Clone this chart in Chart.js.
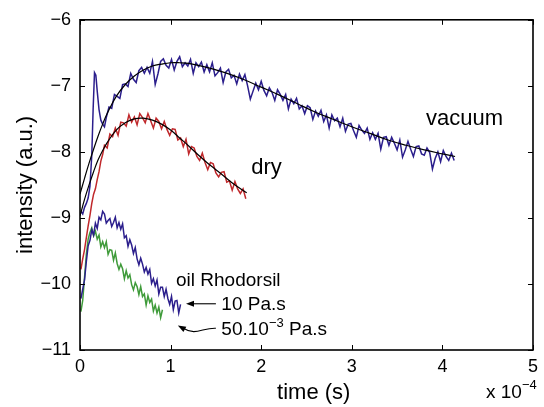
<!DOCTYPE html>
<html>
<head>
<meta charset="utf-8">
<script src="https://cdn.jsdelivr.net/npm/chart.js@4"></script>
<style>
  html, body { margin: 0; padding: 0; background: #fff; }
  canvas { display: block; }
</style>
</head>
<body>
<canvas id="chart" width="544" height="407"></canvas>
<script>
'use strict'

const FONT = 'Liberation Sans, Arial, Helvetica, sans-serif'

// time axis is in units of 1e-4 s
const xTicks = [0, 1, 2, 3, 4, 5]
const yTicks = [-11, -10, -9, -8, -7, -6]

const vacuumT = [0.01, 0.03, 0.05, 0.07, 0.09, 0.11, 0.13, 0.145, 0.16, 0.175, 0.19, 0.21, 0.23, 0.25, 0.27, 0.29,
  0.32, 0.35, 0.38, 0.41, 0.44, 0.47, 0.50, 0.53, 0.56, 0.59, 0.62, 0.65, 0.68, 0.71, 0.74, 0.77, 0.80, 0.83,
  0.86, 0.89, 0.92, 0.95, 0.98, 1.01, 1.04, 1.07, 1.10, 1.13, 1.16, 1.19, 1.22, 1.25, 1.28, 1.31, 1.34, 1.37,
  1.40, 1.43, 1.46, 1.49, 1.52, 1.55, 1.58, 1.61, 1.64, 1.67, 1.70, 1.73, 1.76, 1.79, 1.82, 1.85, 1.88, 1.91,
  1.94, 1.97, 2.00, 2.03, 2.06, 2.09, 2.12, 2.15, 2.18, 2.21, 2.24, 2.27, 2.30, 2.33, 2.36, 2.39, 2.42, 2.45,
  2.48, 2.51, 2.54, 2.57, 2.60, 2.63, 2.66, 2.69, 2.72, 2.75, 2.78, 2.81, 2.84, 2.87, 2.90, 2.93, 2.96, 2.99,
  3.02, 3.05, 3.08, 3.11, 3.14, 3.17, 3.20, 3.23, 3.26, 3.29, 3.32, 3.35, 3.38, 3.41, 3.44, 3.47, 3.50, 3.53,
  3.56, 3.59, 3.62, 3.65, 3.68, 3.71, 3.74, 3.77, 3.80, 3.83, 3.86, 3.89, 3.92, 3.95, 3.98, 4.01, 4.04, 4.07,
  4.10, 4.13]
const vacuumI = [-8.90, -8.94, -8.84, -8.78, -8.70, -8.52, -8.05, -7.35, -6.80, -6.84, -7.08, -7.36, -7.52, -7.58, -7.62, -7.48,
  -7.32, -7.34, -7.13, -7.16, -7.19, -6.98, -6.97, -7.01, -6.81, -6.90, -6.95, -6.77, -6.72, -6.81, -6.72, -6.81, -6.63, -6.98,
  -6.82, -6.63, -6.59, -6.69, -6.73, -6.60, -6.76, -6.63, -6.56, -6.71, -6.65, -6.70, -6.60, -6.81, -6.65, -6.71, -6.64, -6.79,
  -6.68, -6.79, -6.65, -6.85, -6.80, -6.73, -6.95, -6.79, -6.75, -6.88, -6.84, -6.97, -6.82, -6.92, -6.83, -7.00, -7.20, -7.08,
  -6.96, -7.06, -6.93, -7.07, -7.15, -7.03, -7.10, -7.22, -7.06, -7.13, -7.22, -7.13, -7.35, -7.20, -7.27, -7.19, -7.35, -7.30,
  -7.42, -7.30, -7.33, -7.51, -7.38, -7.46, -7.37, -7.54, -7.44, -7.64, -7.44, -7.53, -7.49, -7.62, -7.49, -7.69, -7.58, -7.57,
  -7.68, -7.78, -7.60, -7.67, -7.72, -7.64, -7.81, -7.71, -7.81, -7.72, -7.96, -7.78, -7.77, -7.90, -7.78, -7.87, -7.97, -7.82,
  -8.08, -7.97, -7.84, -7.96, -8.07, -7.92, -7.91, -8.03, -8.05, -7.94, -8.01, -8.26, -8.10, -8.00, -8.15, -7.98, -8.07, -8.13,
  -8.02, -8.13]

const vacuumFitT = [0, 0.05, 0.1, 0.15, 0.2, 0.25, 0.3, 0.4, 0.5, 0.6, 0.7, 0.8, 0.9, 1.0, 1.1, 1.2, 1.4, 1.6, 1.8,
  2.0, 2.2, 2.4, 2.6, 2.8, 3.0, 3.2, 3.4, 3.6, 3.8, 4.0, 4.14]
const vacuumFitI = [-8.64, -8.40, -8.17, -7.96, -7.76, -7.58, -7.42, -7.16, -6.98, -6.85, -6.76, -6.70, -6.67, -6.65, -6.65,
  -6.66, -6.72, -6.80, -6.90, -7.02, -7.14, -7.27, -7.40, -7.51, -7.62, -7.72, -7.82, -7.90, -7.97, -8.03, -8.07]

const dryT = [0.01, 0.03, 0.05, 0.07, 0.09, 0.11, 0.13, 0.15, 0.17, 0.19, 0.21, 0.23, 0.25,
  0.27, 0.30, 0.33, 0.36, 0.39, 0.42, 0.45, 0.48, 0.51, 0.54, 0.57, 0.60, 0.63, 0.66, 0.69, 0.72, 0.75, 0.78,
  0.81, 0.84, 0.87, 0.90, 0.93, 0.96, 0.99, 1.02, 1.05, 1.08, 1.11, 1.14, 1.17, 1.20, 1.23, 1.26, 1.29, 1.32,
  1.35, 1.38, 1.41, 1.44, 1.47, 1.50, 1.53, 1.56, 1.59, 1.62, 1.65, 1.68, 1.71, 1.74, 1.77, 1.80, 1.83]
const dryI = [-9.78, -9.62, -9.48, -9.30, -9.12, -8.96, -8.78, -8.64, -8.56, -8.42, -8.30, -8.14, -8.04,
  -7.90, -7.94, -7.73, -7.77, -7.64, -7.75, -7.55, -7.56, -7.61, -7.44, -7.55, -7.47, -7.59, -7.42, -7.48, -7.56, -7.42, -7.53,
  -7.64, -7.49, -7.54, -7.65, -7.54, -7.66, -7.75, -7.65, -7.66, -7.82, -7.79, -7.92, -7.81, -8.03, -7.92, -7.94, -8.07, -8.13,
  -8.02, -8.16, -8.27, -8.16, -8.18, -8.32, -8.38, -8.31, -8.30, -8.46, -8.44, -8.58, -8.45, -8.56, -8.63, -8.56, -8.71]

const dryFitT = [0, 0.05, 0.1, 0.15, 0.2, 0.25, 0.3, 0.4, 0.5, 0.6, 0.7, 0.8, 0.9, 1.0, 1.1, 1.2, 1.3, 1.4, 1.5, 1.6, 1.7, 1.84]
const dryFitI = [-8.97, -8.72, -8.50, -8.30, -8.12, -7.98, -7.86, -7.67, -7.56, -7.50, -7.49, -7.52, -7.58, -7.67, -7.79,
  -7.91, -8.04, -8.16, -8.27, -8.38, -8.49, -8.62]

// oil Rhodorsil, 10 Pa.s
const oilT = [0.01, 0.03, 0.05, 0.07, 0.09, 0.11, 0.13, 0.15, 0.17, 0.19, 0.21, 0.23, 0.25, 0.27, 0.29, 0.31, 0.33, 0.35,
  0.37, 0.39, 0.41, 0.43, 0.45, 0.47, 0.49, 0.51, 0.53, 0.55, 0.57, 0.59, 0.61, 0.63, 0.65, 0.67, 0.69, 0.71, 0.73,
  0.75, 0.77, 0.79, 0.81, 0.83, 0.85, 0.87, 0.89, 0.91, 0.93, 0.95, 0.97, 0.99, 1.01, 1.03, 1.05, 1.07, 1.09, 1.11]
const oilI = [-10.22, -10.08, -9.94, -9.66, -9.42, -9.34, -9.18, -9.26, -9.08, -9.16, -8.99, -9.03, -8.90,
  -8.94, -9.08, -9.04, -9.01, -9.13, -9.07, -8.99, -9.15, -9.07, -9.17, -9.09, -9.30, -9.27, -9.43, -9.33, -9.41, -9.54,
  -9.45, -9.62, -9.71, -9.61, -9.70, -9.82, -9.75, -9.85, -9.78, -9.99, -9.92, -10.03, -9.94, -10.15, -10.05, -10.05,
  -10.19, -10.08, -10.22, -10.31, -10.19, -10.39, -10.26, -10.25, -10.44, -10.31]

// oil Rhodorsil, 50.10^-3 Pa.s
const thinT = [0.01, 0.03, 0.05, 0.07, 0.09, 0.11, 0.13, 0.15, 0.17, 0.19, 0.21, 0.23, 0.25, 0.27, 0.29, 0.31, 0.33,
  0.35, 0.37, 0.39, 0.41, 0.43, 0.45, 0.47, 0.49, 0.51, 0.53, 0.55, 0.57, 0.59, 0.61, 0.63, 0.65, 0.67, 0.69, 0.71,
  0.73, 0.75, 0.77, 0.79, 0.81, 0.83, 0.85, 0.87, 0.89, 0.91]
const thinI = [-10.42, -10.25, -9.90, -9.55, -9.32, -9.22, -9.15,
  -9.27, -9.20, -9.32, -9.26, -9.44, -9.36, -9.45, -9.36, -9.55, -9.48, -9.49, -9.64, -9.53, -9.69, -9.78, -9.70,
  -9.77, -9.92, -9.80, -9.91, -9.86, -10.01, -10.09, -9.98, -10.04, -10.16, -10.04, -10.19, -10.15, -10.32, -10.18,
  -10.28, -10.23, -10.41, -10.32, -10.44, -10.35, -10.51, -10.39]

const BLUE = '#2b1e8c'
const RED = '#c0282b'
const GREEN = '#3f9b3a'

function toPoints (xs, ys) {
  return xs.map((x, i) => ({ x, y: ys[i] }))
}

function minus (v) {
  return v < 0 ? '\u2212' + Math.abs(v) : String(v)
}

// text with an optional superscript part, anchored at its baseline
function supText (ctx, x, y, base, sup, tail, size) {
  ctx.font = size + 'px ' + FONT
  ctx.fillText(base, x, y)
  let px = x + ctx.measureText(base).width
  if (sup) {
    ctx.font = Math.round(size * 0.68) + 'px ' + FONT
    ctx.fillText(sup, px, y - size * 0.45)
    px += ctx.measureText(sup).width
  }
  if (tail) {
    ctx.font = size + 'px ' + FONT
    ctx.fillText(tail, px, y)
  }
}

function arrowHead (ctx, fx, fy, tx, ty) {
  const a = Math.atan2(ty - fy, tx - fx)
  const len = 8
  const w = 3
  ctx.beginPath()
  ctx.moveTo(tx, ty)
  ctx.lineTo(tx - len * Math.cos(a) + w * Math.sin(a), ty - len * Math.sin(a) - w * Math.cos(a))
  ctx.lineTo(tx - len * Math.cos(a) - w * Math.sin(a), ty - len * Math.sin(a) + w * Math.cos(a))
  ctx.closePath()
  ctx.fill()
}

const frame = {
  id: 'frame',
  afterDraw (chart) {
    const { ctx, chartArea: a, scales: { x, y } } = chart
    ctx.save()
    ctx.strokeStyle = '#000'
    ctx.fillStyle = '#000'
    ctx.lineWidth = 1.6
    ctx.strokeRect(a.left, a.top, a.right - a.left, a.bottom - a.top)

    // inward ticks on all four sides
    ctx.lineWidth = 1
    ctx.beginPath()
    for (const v of xTicks) {
      const px = Math.round(x.getPixelForValue(v)) + 0.5
      ctx.moveTo(px, a.bottom)
      ctx.lineTo(px, a.bottom - 5)
      ctx.moveTo(px, a.top)
      ctx.lineTo(px, a.top + 5)
    }
    for (const v of yTicks) {
      const py = Math.round(y.getPixelForValue(v)) + 0.5
      ctx.moveTo(a.left, py)
      ctx.lineTo(a.left + 5, py)
      ctx.moveTo(a.right, py)
      ctx.lineTo(a.right - 5, py)
    }
    ctx.stroke()

    // axis titles
    ctx.textBaseline = 'middle'
    ctx.textAlign = 'center'
    ctx.font = '22px ' + FONT
    ctx.fillText('time (s)', x.getPixelForValue(2.58), 393)
    ctx.save()
    ctx.translate(26, (a.top + a.bottom) / 2)
    ctx.rotate(-Math.PI / 2)
    ctx.fillText('intensity (a.u.)', 0, 0)
    ctx.restore()

    // exponent of the time axis
    ctx.textAlign = 'left'
    ctx.textBaseline = 'alphabetic'
    supText(ctx, a.right - 47, 398, 'x 10', '\u22124', '', 19)

    // curve labels
    const X = v => x.getPixelForValue(v)
    const Y = v => y.getPixelForValue(v)
    ctx.font = '22px ' + FONT
    ctx.fillText('vacuum', X(3.82), Y(-7.60))
    ctx.fillText('dry', X(1.89), Y(-8.34))
    ctx.font = '19px ' + FONT
    ctx.fillText('oil Rhodorsil', X(1.06), Y(-10.03))
    ctx.fillText('10 Pa.s', X(1.56), Y(-10.40))
    supText(ctx, X(1.56), Y(-10.78), '50.10', '\u22123', ' Pa.s', 19)

    // arrows
    ctx.lineWidth = 1.1
    ctx.beginPath()
    ctx.moveTo(X(1.50), Y(-10.30))
    ctx.lineTo(X(1.24), Y(-10.30))
    ctx.stroke()
    arrowHead(ctx, X(1.50), Y(-10.30), X(1.17), Y(-10.30))

    ctx.beginPath()
    ctx.moveTo(X(1.50), Y(-10.67))
    ctx.bezierCurveTo(X(1.35), Y(-10.66), X(1.28), Y(-10.79), X(1.14), Y(-10.67))
    ctx.stroke()
    arrowHead(ctx, X(1.20), Y(-10.72), X(1.08), Y(-10.63))
    ctx.restore()
  }
}

const noisy = (label, xs, ys, color) => ({
  label,
  data: toPoints(xs, ys),
  borderColor: color,
  borderWidth: 1.5,
  pointRadius: 0,
  tension: 0
})

const fit = (label, xs, ys) => ({
  label,
  data: toPoints(xs, ys),
  borderColor: '#000',
  borderWidth: 1.2,
  pointRadius: 0,
  tension: 0.4
})

new Chart(document.getElementById('chart'), {
  type: 'line',
  data: {
    datasets: [
      fit('vacuum fit', vacuumFitT, vacuumFitI),
      fit('dry fit', dryFitT, dryFitI),
      noisy('vacuum', vacuumT, vacuumI, BLUE),
      noisy('dry', dryT, dryI, RED),
      noisy('10 Pa.s', oilT, oilI, BLUE),
      noisy('50.10-3 Pa.s', thinT, thinI, GREEN)
    ]
  },
  options: {
    responsive: false,
    animation: false,
    layout: { padding: { top: 15, right: 7, left: 0, bottom: 0 } },
    plugins: {
      legend: { display: false },
      tooltip: { enabled: false }
    },
    scales: {
      x: {
        type: 'linear',
        min: 0,
        max: 5,
        afterFit: scale => { scale.height = 57 },
        afterBuildTicks: scale => { scale.ticks = xTicks.map(value => ({ value })) },
        grid: { display: false, drawTicks: false },
        border: { display: false },
        ticks: {
          padding: 6,
          color: '#000',
          font: { family: FONT, size: 18 },
          callback: v => String(v)
        }
      },
      y: {
        min: -11,
        max: -6,
        afterFit: scale => { scale.width = 80 },
        afterBuildTicks: scale => { scale.ticks = yTicks.map(value => ({ value })) },
        grid: { display: false, drawTicks: false },
        border: { display: false },
        ticks: {
          padding: 9,
          color: '#000',
          font: { family: FONT, size: 18 },
          callback: v => minus(v)
        }
      }
    }
  },
  plugins: [frame]
})
</script>
</body>
</html>
